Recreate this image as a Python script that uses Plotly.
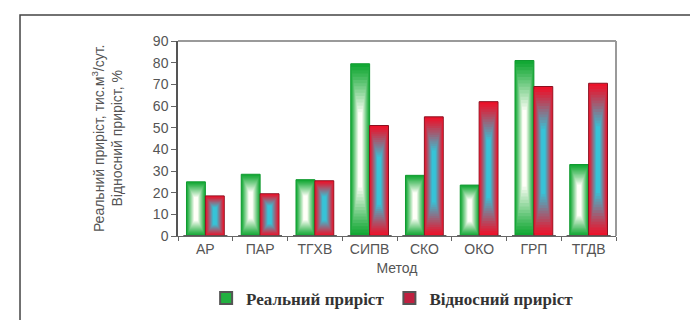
import plotly.graph_objects as go

categories = ["АР", "ПАР", "ТГХВ", "СИПВ", "СКО", "ОКО", "ГРП", "ТГДВ"]
real_growth = [25, 28.5, 26, 79.5, 28, 23.5, 81, 33]
relative_growth = [18.5, 19.5, 25.5, 51, 55, 62, 69, 70.5]
y_ticks = [0, 10, 20, 30, 40, 50, 60, 70, 80, 90]

W = 0.345
N = 16

def mix(c1, c2, t):
    return "rgb(%d,%d,%d)" % tuple(round(a + (b - a) * t) for a, b in zip(c1, c2))

fig = go.Figure()

def add_series(values, name, center, c_out, c_in, line_col, legend_col):
    for k in range(N):
        t = k / (N - 1)
        wk = W * (1 - 0.85 * k / N)
        frac = 0.30 * k / N
        bases = [v * frac for v in values]
        heights = [v * (1 - 2 * frac) for v in values]
        fig.add_trace(go.Bar(
            x=categories, y=heights, base=bases,
            width=wk, offset=center - wk / 2,
            marker=dict(color=mix(c_out, c_in, t ** 1.1),
                        line=dict(width=1 if k == 0 else 0, color=line_col)),
            name=name, showlegend=False, hoverinfo="skip",
        ))
    fig.add_trace(go.Bar(
        x=categories, y=[0] * len(categories), name=name,
        marker=dict(color=legend_col, line=dict(width=1.5, color="#555")),
        showlegend=True, hoverinfo="skip",
    ))

add_series(real_growth, "Реальний приріст", -W / 2,
           (18, 168, 52), (255, 255, 248), "#109a30", "#22b040")
add_series(relative_growth, "Відносний приріст", W / 2,
           (236, 18, 42), (55, 195, 215), "#8a1020", "#c02040")

fig.update_layout(
    width=698, height=320,
    margin=dict(l=170, r=90, t=33, b=84),
    paper_bgcolor="white", plot_bgcolor="white",
    barmode="overlay",
    font=dict(family="Liberation Sans, Arial", size=14, color="#555"),
    showlegend=True,
    legend=dict(orientation="h", x=0.49, y=-0.32, xanchor="center", yanchor="middle",
                font=dict(family="Liberation Serif, Times New Roman", size=17,
                          color="#333", weight="bold"),
                itemsizing="constant", traceorder="normal", itemwidth=30,
                bgcolor="rgba(0,0,0,0)"),
    xaxis=dict(type="category", tickson="boundaries", ticks="outside", ticklen=4,
               tickcolor="#666", showline=True, linecolor="#666", linewidth=1,
               showgrid=False, tickfont=dict(size=14, color="#555"),
               title=dict(text="Метод", standoff=7, font=dict(size=14, color="#555"))),
    yaxis=dict(range=[0, 90], tickvals=y_ticks, ticks="outside", ticklen=5,
               tickcolor="#666", showline=True, linecolor="#555", linewidth=1.5,
               showgrid=False, zeroline=False, tickfont=dict(size=14, color="#555")),
)

# plot area border (top and right)
fig.add_shape(type="line", xref="paper", yref="paper", x0=0, x1=1, y0=1, y1=1,
              line=dict(color="#9a9a9a", width=2))
fig.add_shape(type="line", xref="paper", yref="paper", x0=1, x1=1, y0=0, y1=1,
              line=dict(color="#9a9a9a", width=2))
# outer frame
fig.add_shape(type="rect", xref="paper", yref="paper", x0=-0.3607, x1=1.196, y0=-0.6, y1=1.133,
              line=dict(color="#444", width=1.5), layer="below")

fig.add_annotation(xref="paper", yref="paper", x=-0.163, y=0.5, textangle=-90,
                   xanchor="center", yanchor="middle",
                   text="Реальний приріст, тис.м<sup>3</sup>/сут.<br>Відносний приріст, %",
                   showarrow=False, font=dict(size=14, color="#555"))

fig.write_html("out.html")
